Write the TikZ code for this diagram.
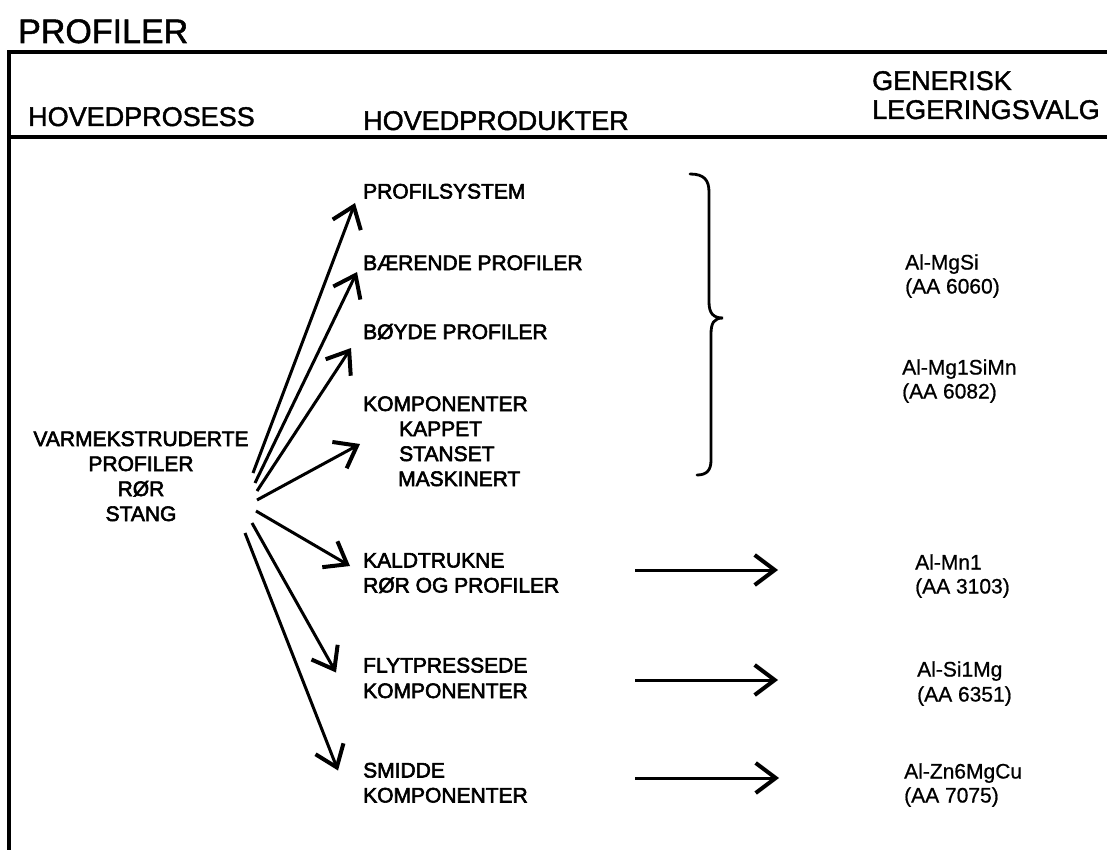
\documentclass[tikz,border=0pt]{standalone}
\usepackage{fontspec}
\setmainfont{Liberation Sans}
\newfontfamily\heavy[FakeBold=2.8]{Liberation Sans}
\newfontfamily\medium[FakeBold=1.5]{Liberation Sans}
\newfontfamily\light[FakeBold=0.8]{Liberation Sans}
\usetikzlibrary{arrows.meta}
\begin{document}
\begin{tikzpicture}[x=1pt,y=-1pt,
  title/.style={anchor=base west,inner sep=0pt,font=\medium\fontsize{34}{36}\selectfont},
  hdr/.style={anchor=base west,inner sep=0pt,font=\medium\fontsize{27}{30}\selectfont},
  prod/.style={anchor=base west,inner sep=0pt,font=\heavy\fontsize{21}{25}\selectfont},
  srcline/.style={anchor=base,inner sep=0pt,font=\heavy\fontsize{21}{25}\selectfont},
  alloy/.style={anchor=base west,inner sep=0pt,font=\light\fontsize{21}{25}\selectfont},
  framel/.style={line width=3.2pt},
  arr/.style={line width=3pt,-{Straight Barb[length=20pt,width=30pt,line width=4pt]}}
]
\useasboundingbox (0,0) rectangle (1107,850);
% frame
\draw[framel] (9,850) -- (9,52) -- (1107,52);
\draw[framel] (9,137) -- (1107,137);
% headers
\node[title] (ttl) at (18,43) {PROFILER};
\node[hdr] (hp) at (28,126) {HOVEDPROSESS};
\node[hdr] (hpr) at (363,130) {HOVEDPRODUKTER};
\node[hdr] (gen1) at (872,90) {GENERISK};
\node[hdr] (gen2) at (872,119) {LEGERINGSVALG};
% source
\node[srcline] (v1) at (141,446) {VARMEKSTRUDERTE};
\node[srcline] (v2) at (141,471) {PROFILER};
\node[srcline] (v3) at (141,496) {RØR};
\node[srcline] (v4) at (141,521) {STANG};
% products
\node[prod] (ps) at (363,198.5) {PROFILSYSTEM};
\node[prod] (bp) at (363,270) {BÆRENDE PROFILER};
\node[prod] (by) at (363,339) {BØYDE PROFILER};
\node[prod] (ko) at (363,411) {KOMPONENTER};
\node[prod] (ka) at (399,436) {KAPPET};
\node[prod] (st) at (399,461) {STANSET};
\node[prod] (ma) at (398,486) {MASKINERT};
\node[prod] (kd1) at (363,567.5) {KALDTRUKNE};
\node[prod] (kd2) at (363,592.5) {RØR OG PROFILER};
\node[prod] (fp1) at (363,672.5) {FLYTPRESSEDE};
\node[prod] (fp2) at (363,698) {KOMPONENTER};
\node[prod] (sm1) at (363,777.5) {SMIDDE};
\node[prod] (sm2) at (363,802.5) {KOMPONENTER};
% alloys
\node[alloy] (a1) at (905,269.5) {Al-MgSi};
\node[alloy] (a1b) at (905,293.5) {(AA 6060)};
\node[alloy] (a2) at (902,374.5) {Al-Mg1SiMn};
\node[alloy] (a2b) at (902,398.5) {(AA 6082)};
\node[alloy] (a3) at (915,569.5) {Al-Mn1};
\node[alloy] (a3b) at (915,593.5) {(AA 3103)};
\node[alloy] (a4) at (917,676.5) {Al-Si1Mg};
\node[alloy] (a4b) at (917,701.5) {(AA 6351)};
\node[alloy] (a5) at (904,778.5) {Al-Zn6MgCu};
\node[alloy] (a5b) at (904,802.5) {(AA 7075)};
% arrow starts
\coordinate (s1) at (253,473);
\coordinate (s2) at (255,483);
\coordinate (s3) at (257,491);
\coordinate (s4) at (257,500);
\coordinate (s5) at (256,511);
\coordinate (s6) at (252,523);
\coordinate (s7) at (245,533);
\draw[arr] (s1) -- ([shift={(-8,4.5)}]ps.base west);
\draw[arr] (s2) -- ([shift={(-6,2)}]bp.base west);
\draw[arr] (s3) -- ([shift={(-12,9)}]by.base west);
\draw[arr] (s4) -- ([shift={(-39,-17)}]st.base west);
\draw[arr] (s5) -- ([shift={(-13,-1.5)}]kd1.base west);
\draw[arr] (s6) -- ([shift={(-27,0)}]fp1.base west);
\draw[arr] (s7) -- ([shift={(-25,-7)}]sm1.base west);
% right arrows
\coordinate (r1) at (635,570);
\coordinate (r2) at (635,680);
\coordinate (r3) at (635,778);
\draw[arr] (r1) -- ([shift={(-137,0.5)}]a3.base west);
\draw[arr] (r2) -- ([shift={(-139,3.5)}]a4.base west);
\draw[arr] (r3) -- ([shift={(-125,-0.5)}]a5.base west);
% brace
\draw[line width=2.8pt,line cap=round]
  (690,174) .. controls (704,174) and (709,180) .. (709,192)
  -- (709,302) .. controls (709,313) and (713,318) .. (723,318)
  .. controls (714,318) and (711,323) .. (711,334)
  -- (711,460) .. controls (711,470) and (707,475) .. (697,475);
\end{tikzpicture}
\end{document}
